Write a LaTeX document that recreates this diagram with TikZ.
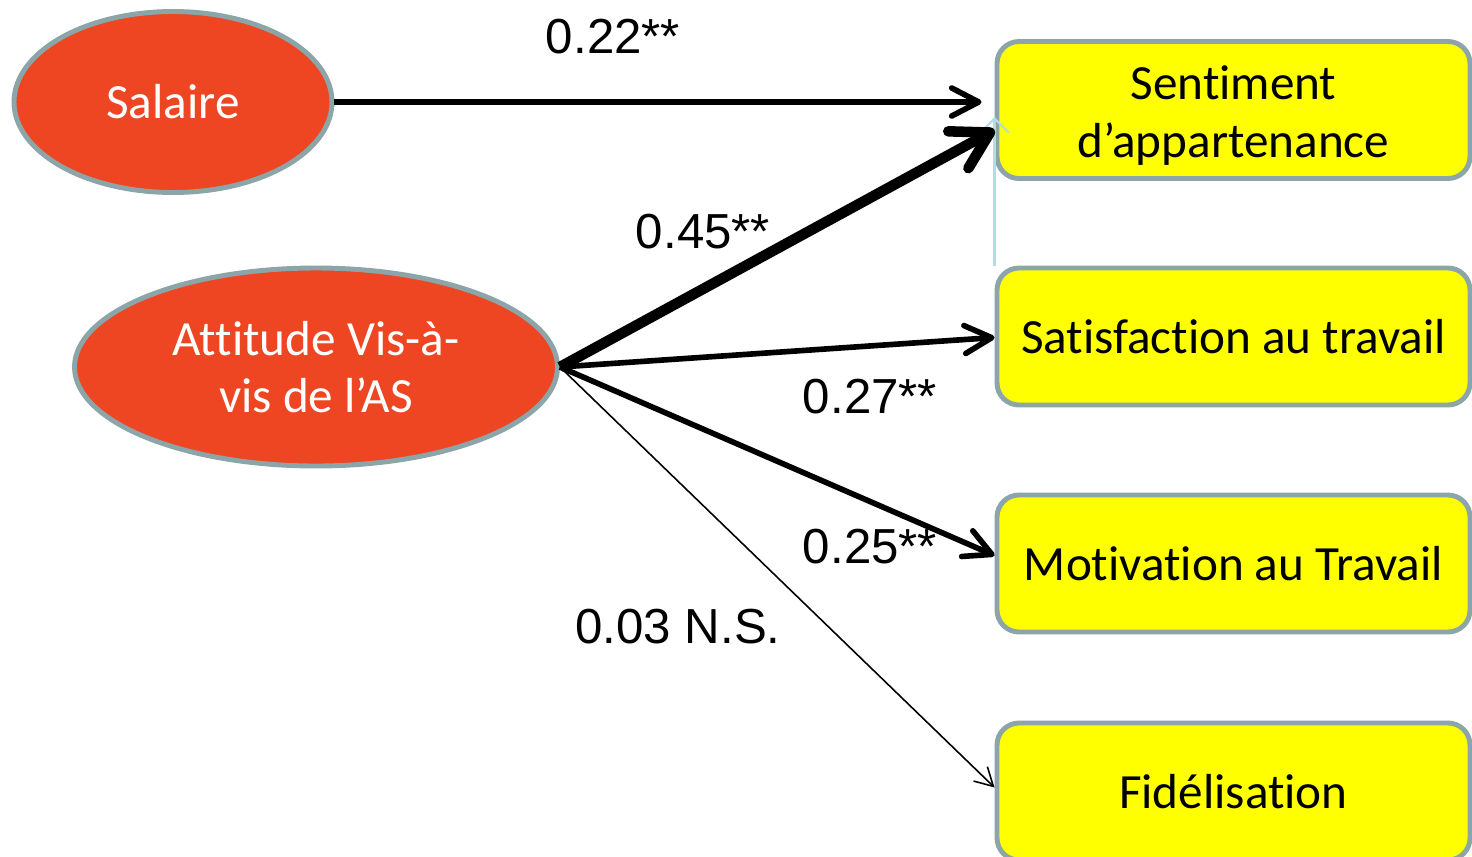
\documentclass[tikz,border=0pt]{standalone}
\usepackage{fontspec}
\setmainfont[Ligatures=NoCommon]{Carlito}
\newfontfamily\numfont{Liberation Sans}
\usetikzlibrary{arrows.meta,calc,shapes.geometric}
\definecolor{ovalred}{HTML}{EE4623}
\definecolor{rimgrey}{HTML}{8CA5A8}
\definecolor{boxyellow}{HTML}{FFFF00}
\definecolor{paleblue}{HTML}{B4DCE2}

\begin{document}
\begin{tikzpicture}[
	oval/.style={ellipse, draw=rimgrey, line width=1.4pt, fill=ovalred, text=white,
		align=center, inner sep=0pt, font=\fontsize{14}{16.3}\selectfont},
	box/.style={rectangle, rounded corners=0.22cm, draw=rimgrey, line width=1.4pt,
		fill=boxyellow, minimum width=4.73cm, minimum height=1.37cm, align=center,
		inner sep=0pt, font=\fontsize{14}{16.5}\selectfont},
	lab/.style={font=\numfont\fontsize{14}{16}\selectfont},
	link/.style={line width=1.6pt, -{Straight Barb[length=0.27cm,width=0.28cm,round]}},
	boldlink/.style={line width=3pt, -{Straight Barb[length=0.36cm,width=0.42cm,round]}},
	thinlink/.style={line width=0.45pt, -{Straight Barb[length=0.18cm,width=0.2cm]}}
	]
	\useasboundingbox (0, 0) rectangle (14.72, 8.56);
	
	% ovals
	\node[oval, minimum width=3.18cm, minimum height=1.81cm] (sal) at (1.73, 7.54) {Salaire};
	\node[oval, minimum width=4.83cm, minimum height=1.98cm] (att) at (3.16, 4.89) {Attitude Vis-à-\\vis de l’AS};
	
	% boxes
	\node[box] (sent) at (12.335, 7.46) {\raisebox{-0.07cm}[\height][\depth]{\begin{tabular}{@{}c@{}}Sentiment\\d’appartenance\end{tabular}}};
	\node[box] (sat) at (12.335, 5.195) {Satisfaction au travail};
	\node[box] (mot) at (12.335, 2.925) {Motivation au Travail};
	\node[box] (fid) at (12.335, 0.645) {Fidélisation};
	
	% paths
	\draw[paleblue, line width=0.6pt, -{Straight Barb[length=0.14cm,width=0.28cm]}, shorten >=2pt] (sat.north west) -- (sent.west);
	\draw[link, shorten >=0.13cm] (sal.east) -- (sal.east -| sent.west);
	\draw[boldlink] (att.east) -- ($(sent.west)+(0,-0.2)$);
	\draw[link] (att.east) -- ($(sat.west)+(0,-0.01)$);
	\draw[link] (att.east) -- ($(mot.west)+(0,0.08)$);
	\draw[thinlink] (att.east) -- ($(fid.west)+(0,0.04)$);
	
	% weights
	\node[lab] (w1) at (6.13, 8.19) {0.22**};
	\node[lab] (w2) at (7.03, 6.24) {0.45**};
	\node[lab] (w3) at (8.70, 4.59) {0.27**};
	\node[lab] (w4) at (8.70, 3.09) {0.25**};
	\node[lab] (w5) at (6.78, 2.29) {0.03 N.S.};
\end{tikzpicture}
\end{document}
